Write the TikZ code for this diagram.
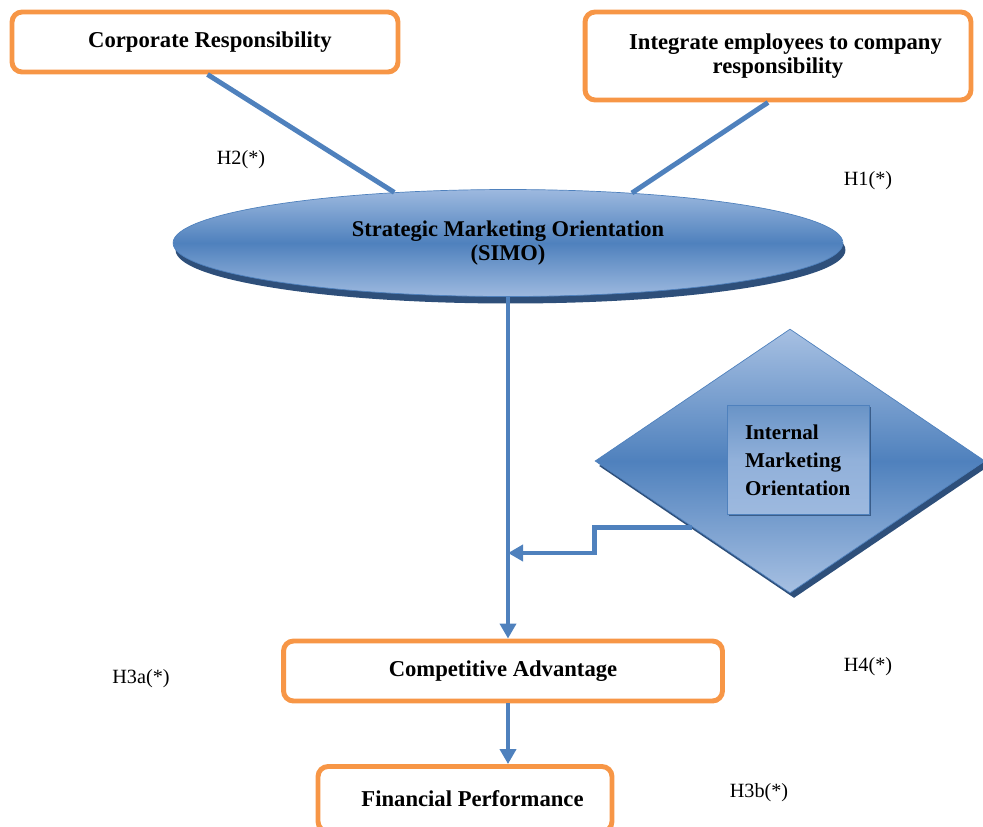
\documentclass[tikz,border=0pt]{standalone}
\usepackage{fontspec}
\setmainfont{Liberation Serif}
\usepackage{tikz}
\usetikzlibrary{arrows.meta,positioning,calc,shapes.geometric,shadows}
\definecolor{Frame}{HTML}{F79646}
\definecolor{Link}{HTML}{4F81BD}
\definecolor{BlueLight}{HTML}{9DB9DF}
\definecolor{BlueMid}{HTML}{4F81BD}
\definecolor{BlueDark}{HTML}{2E4F7A}

\begin{document}
\begin{tikzpicture}[x=0.02cm, y=-0.02cm,
  every node/.style={font=\fontsize{11.5}{14}\selectfont},
  hbox/.style={draw=Frame, line width=2.8pt, rounded corners=0.2cm, fill=white, align=center, font=\bfseries\fontsize{12.9}{14}\selectfont},
  hlabel/.style={font=\fontsize{11.5}{14}\selectfont},
  link/.style={draw=Link, line width=2.8pt},
  tip/.style={-{Triangle[length=3mm, width=3.2mm]}}]
  \useasboundingbox (0,0) rectangle (983,826);

  % boxes
  \node[hbox, minimum width=7.72cm, minimum height=1.2cm] (cr) at (205,42) {\hspace{0.2cm}Corporate Responsibility};
  \node[hbox, minimum width=7.72cm, minimum height=1.76cm] (integ) at (778,56) {\hspace{0.3cm}Integrate employees to company\\ responsibility};

  % ellipse
  \node[ellipse, draw=BlueMid, thin, minimum width=13.4cm, minimum height=2.14cm,
        top color=BlueLight, bottom color=BlueLight, middle color=BlueMid,
        drop shadow={fill=BlueDark, opacity=1, shadow xshift=0.05cm, shadow yshift=-0.14cm},
        align=center, font=\bfseries\fontsize{12.8}{14}\selectfont] (smo) at (508,243) {Strategic Marketing Orientation\\(SIMO)};

  % moderator
  \node[diamond, draw=BlueMid, thin, minimum width=7.8cm, minimum height=5.28cm, inner sep=0pt,
        top color=BlueLight!90, bottom color=BlueLight!90, middle color=BlueMid,
        drop shadow={fill=BlueDark, opacity=1, shadow xshift=0.08cm, shadow yshift=-0.1cm}] (imo) at (790,461) {};
  \node[draw=BlueMid, thin, minimum width=2.84cm, minimum height=2.18cm, text width=2.12cm, align=left,
        top color=BlueMid!85, bottom color=BlueLight, middle color=BlueLight!85!BlueMid,
        drop shadow={fill=BlueDark, opacity=0.8, shadow xshift=0.04cm, shadow yshift=-0.02cm},
        font=\bfseries\fontsize{12}{16}\selectfont] (imotext) at (798,460) {Internal\\ Marketing\\ Orientation};

  \node[hbox, minimum width=8.78cm, minimum height=1.2cm] (ca) at (503,671) {Competitive Advantage};
  \node[hbox, minimum width=5.88cm, minimum height=1.3cm] (fp) at (465,799) {\hspace{0.3cm}Financial Performance};

  % hypotheses
  \node[hlabel] (h2) at (241,160) {H2(*)};
  \node[hlabel] (h1) at (868,181) {H1(*)};
  \node[hlabel] (h3a) at (141,679) {H3a(*)};
  \node[hlabel] (h4) at (868,667) {H4(*)};
  \node[hlabel] (h3b) at (759,793) {H3b(*)};

  % links
  \draw[link] ([xshift=0.05cm]cr.south) -- (smo.156);
  \draw[link] ([xshift=-0.2cm]integ.south) -- (smo.22);
  \coordinate (imoport) at ($(imo.west)!0.5!(imo.south)$);
  \coordinate (merge) at (smo.south |- 0,553);
  \draw[link, tip] (smo.south) -- (smo.south |- ca.north);
  \draw[link, tip] (imoport) -- ++(-98,0) |- (merge);
  \draw[link, tip] (smo.south |- ca.south) -- (smo.south |- fp.north);
\end{tikzpicture}
\end{document}
